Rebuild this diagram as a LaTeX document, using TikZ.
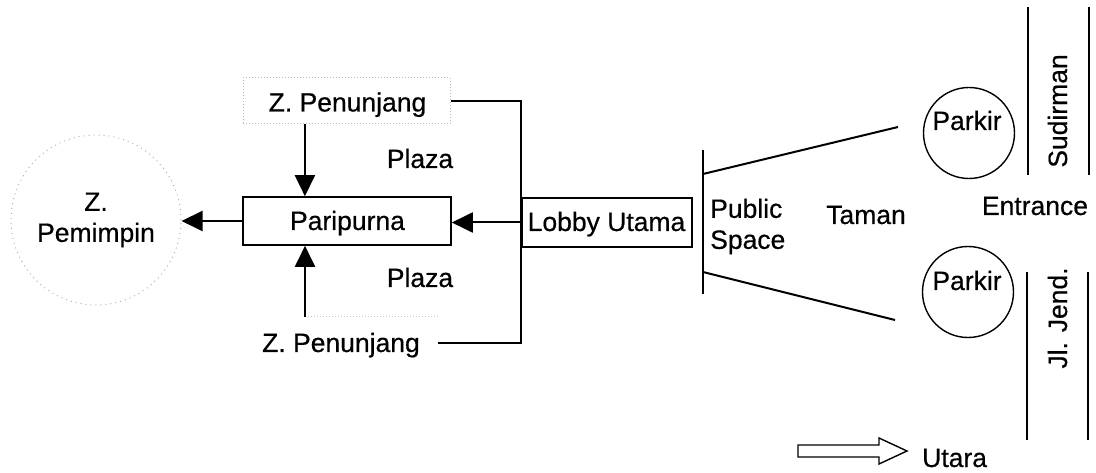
\documentclass[tikz,border=0pt]{standalone}
\usepackage{fontspec}
\setmainfont{Liberation Sans}[FakeBold=0.5]
\usetikzlibrary{arrows.meta,calc}
\begin{document}
\begin{tikzpicture}[x=1pt,y=-1pt,
  every node/.style={inner sep=0pt, font=\fontsize{26.5}{31}\selectfont},
  txt/.style={anchor=base},
  solidbox/.style={draw, line width=1.6pt},
  faintbox/.style={draw=gray!55, dotted, line width=1pt},
  faintline/.style={draw=gray!45, dotted, line width=1pt},
  link/.style={line width=2pt},
  arr/.style={link, -{Triangle[length=21pt,width=20pt]}},
  park/.style={circle, draw, line width=1.4pt, minimum size=91pt},
  street/.style={line width=1.6pt}]
\useasboundingbox (0,0) rectangle (1096,473);

% --- rooms ---
\node[circle, draw=gray!60, dash pattern=on 1pt off 4pt, line width=1pt,
      minimum size=170pt, align=center] (zpem) at (96,220) {Z.\\Pemimpin};

\node[faintbox, minimum width=207pt, minimum height=46pt] (ztop) at (346.5,101) {};
\node[txt] (ztopt) at (347.5,111.5) {Z. Penunjang};

\node[solidbox, minimum width=208pt, minimum height=48pt] (pari) at (347,221) {};
\node[txt] (parit) at (347.5,230) {Paripurna};

\node[solidbox, minimum width=170pt, minimum height=49pt] (lobby) at (607,222.5) {};
\node[txt] (lobbyt) at (606.5,231) {Lobby Utama};

\node[txt] (zbot) at (341,352) {Z. Penunjang};
\coordinate (zbL) at (305,317);
\coordinate (zbR) at (438,317);
\coordinate (zbE) at (438,343);
\draw[faintline] (zbL) -- (zbR);

\node[txt] (plazaA) at (420,168) {Plaza};
\node[txt] (plazaB) at (420,287) {Plaza};

% --- connections ---
\coordinate (dropT) at ($(ztop.south west)!0.3!(ztop.south east)$);
\draw[arr] (dropT) -- (dropT |- pari.north);
\draw[arr] (zbL) -- (zbL |- pari.south);
\draw[arr] (pari.west) -- (pari.west -| zpem.east);
\draw[arr] (lobby.west) -- (lobby.west -| pari.east);
\draw[link] (ztop.east) -| (zbE -| lobby.west) -- (zbE);

% --- public space and garden ---
\coordinate (psT) at (703,150);
\coordinate (psB) at (703,294);
\coordinate (psU) at (703,174);
\coordinate (psL) at (703,272);
\coordinate (tmU) at (898,127);
\coordinate (tmL) at (895,320);
\draw[link] (psT) -- (psB);
\draw[link] (psU) -- (tmU);
\draw[link] (psL) -- (tmL);
\node[anchor=west, align=left] (pubsp) at (710,226.5) {Public\\Space};
\node[txt] (taman) at (866,224) {Taman};
\node[txt] (entr) at (1035,215) {Entrance};

% --- parking ---
\node[park] (parkA) at (969,133) {};
\node[txt] (parkAt) at (967,130) {Parkir};
\node[park] (parkB) at (968,292) {};
\node[txt] (parkBt) at (967,290) {Parkir};

% --- streets ---
\coordinate (sA1) at (1028,7);   \coordinate (sA2) at (1028,175);
\coordinate (sB1) at (1089,7);   \coordinate (sB2) at (1089,175);
\coordinate (jA1) at (1027,272); \coordinate (jA2) at (1027,440);
\coordinate (jB1) at (1088,272); \coordinate (jB2) at (1088,440);
\draw[street] (sA1) -- (sA2);
\draw[street] (sB1) -- (sB2);
\draw[street] (jA1) -- (jA2);
\draw[street] (jB1) -- (jB2);
\node[anchor=base, rotate=90] (sud) at (1067,111) {Sudirman};
\node[anchor=base, rotate=90] (jend) at (1067,318) {Jl. Jend.};

% --- north arrow ---
\draw[line width=1.4pt, line join=miter]
  (798,445) -- (879,445) -- (879,438) -- (907,451) -- (879,464)
  -- (879,457) -- (798,457) -- cycle;
\node[anchor=base west] (utara) at (922,467) {Utara};
\end{tikzpicture}
\end{document}
